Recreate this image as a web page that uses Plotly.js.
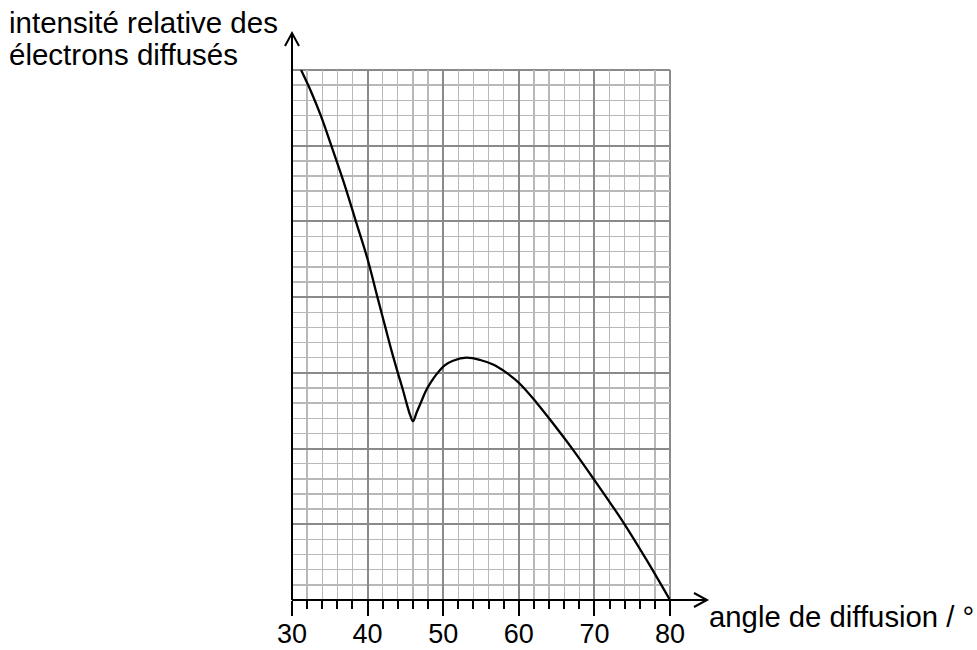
<!DOCTYPE html>
<html>
<head>
<meta charset="utf-8">
<script src="https://cdn.plot.ly/plotly-3.0.1.min.js"></script>
<style>html,body{margin:0;padding:0;background:#fff;}#chart{width:977px;height:650px;}</style>
</head>
<body>
<div id="chart"></div>
<script>
// Data
const angles = [31.2, 32.5, 33.8, 35.2, 37.0, 38.45, 40.0, 41.3, 42.3, 43.2, 44.0, 44.6, 45.15, 45.6, 46.0, 46.5, 47.1, 47.7, 48.4, 49.1, 50.2, 51.3, 53.1, 54.9, 56.6, 58.4, 60.1, 62.4, 64.0, 67.2, 70.1, 73.8, 76.9, 80.0];
const intensity = [7.0, 6.72, 6.4, 6.0, 5.47, 5.0, 4.5, 4.0, 3.62, 3.28, 3.0, 2.8, 2.6, 2.45, 2.36, 2.48, 2.62, 2.76, 2.88, 2.98, 3.1, 3.16, 3.2, 3.17, 3.11, 3.0, 2.86, 2.6, 2.4, 1.98, 1.57, 1.03, 0.53, 0.0];
const xRange = [30, 80], yRange = [0, 7];
const xTickStart = 30, xTickStep = 10, xMinorStep = 2;
const yMajorStep = 1, yMinorStep = 0.2;
const yTitleLines = ["intensité relative des", "électrons diffusés"];
const xTitle = "angle de diffusion / °";

const FONT = "Liberation Sans, Arial, sans-serif";
const W = 977, H = 650;
const L = 292, R = 307, T = 70, B = 50;
const pw = W - L - R, ph = H - T - B;
const px = v => (v - L) / pw;       // pixel -> paper x
const py = v => (H - B - v) / ph;   // pixel -> paper y

const majorGrid = '#8a8a8a', minorGrid = '#b8b8b8';

const curve = {
  x: angles, y: intensity, type: 'scatter', mode: 'lines',
  line: {color: '#000', width: 2.3, shape: 'spline', smoothing: 1},
  hoverinfo: 'skip'
};
// empty trace that carries the major-grid axes
const majorAxesCarrier = {x: [], y: [], type: 'scatter', mode: 'lines', xaxis: 'x2', yaxis: 'y2', hoverinfo: 'skip'};

const layout = {
  width: W, height: H,
  margin: {l: L, r: R, t: T, b: B, pad: 0},
  paper_bgcolor: '#fff', plot_bgcolor: '#fff',
  showlegend: false,
  font: {family: FONT, color: '#000'},
  // minor grid (every 2° and every 0.2)
  xaxis: {
    range: xRange, tickmode: 'linear', tick0: xTickStart, dtick: xMinorStep,
    showgrid: true, gridcolor: minorGrid, gridwidth: 1.3,
    ticks: 'outside', ticklen: 8, tickwidth: 2, tickcolor: '#000',
    showticklabels: false, showline: false, zeroline: false, fixedrange: true
  },
  yaxis: {
    range: yRange, tickmode: 'linear', tick0: 0, dtick: yMinorStep,
    showgrid: true, gridcolor: minorGrid, gridwidth: 1.3,
    ticks: '', showticklabels: false, showline: false, zeroline: false, fixedrange: true
  },
  // major grid (every 10° and every 1) with labels
  xaxis2: {
    overlaying: 'x', anchor: 'y2', side: 'bottom',
    range: xRange, tickmode: 'linear', tick0: xTickStart, dtick: xTickStep,
    showgrid: true, gridcolor: majorGrid, gridwidth: 2,
    ticks: 'outside', ticklen: 15, tickwidth: 2, tickcolor: '#000',
    ticklabelstandoff: -5,
    tickfont: {family: FONT, size: 27, color: '#000'},
    showline: false, zeroline: false, fixedrange: true
  },
  yaxis2: {
    overlaying: 'y', anchor: 'x2', side: 'left',
    range: yRange, tickmode: 'linear', tick0: 0, dtick: yMajorStep,
    showgrid: true, gridcolor: majorGrid, gridwidth: 2,
    ticks: '', showticklabels: false, showline: false, zeroline: false, fixedrange: true
  },
  shapes: [
    // top and right border of the grid
    {type: 'line', xref: 'paper', yref: 'paper', x0: 0, x1: 1, y0: 1, y1: 1, line: {color: majorGrid, width: 2}, layer: 'below'},
    {type: 'line', xref: 'paper', yref: 'paper', x0: 1, x1: 1, y0: 0, y1: 1, line: {color: majorGrid, width: 2}, layer: 'below'},
    // x axis with arrow
    {type: 'line', xref: 'paper', yref: 'paper', x0: 0, x1: px(706), y0: 0, y1: 0, line: {color: '#000', width: 2}},
    {type: 'path', xref: 'paper', yref: 'paper',
     path: `M${px(694)},${py(593)} L${px(707)},${py(600)} L${px(694)},${py(607)}`, line: {color: '#000', width: 2}},
    // y axis with arrow
    {type: 'line', xref: 'paper', yref: 'paper', x0: 0, x1: 0, y0: 0, y1: py(34), line: {color: '#000', width: 2}},
    {type: 'path', xref: 'paper', yref: 'paper',
     path: `M${px(285)},${py(46)} L${px(292)},${py(33)} L${px(299)},${py(46)}`, line: {color: '#000', width: 2}}
  ],
  annotations: [
    {text: yTitleLines[0], xref: 'paper', yref: 'paper', x: px(7), y: py(22), xanchor: 'left', yanchor: 'middle',
     showarrow: false, font: {family: FONT, size: 29.5, color: '#000'}},
    {text: yTitleLines[1], xref: 'paper', yref: 'paper', x: px(7), y: py(55), xanchor: 'left', yanchor: 'middle',
     showarrow: false, font: {family: FONT, size: 29.5, color: '#000'}},
    {text: xTitle, xref: 'paper', yref: 'paper', x: px(707), y: py(616), xanchor: 'left', yanchor: 'middle',
     showarrow: false, font: {family: FONT, size: 29.3, color: '#000'}}
  ]
};

Plotly.newPlot('chart', [curve, majorAxesCarrier], layout, {staticPlot: true, displayModeBar: false});
</script>
</body>
</html>
